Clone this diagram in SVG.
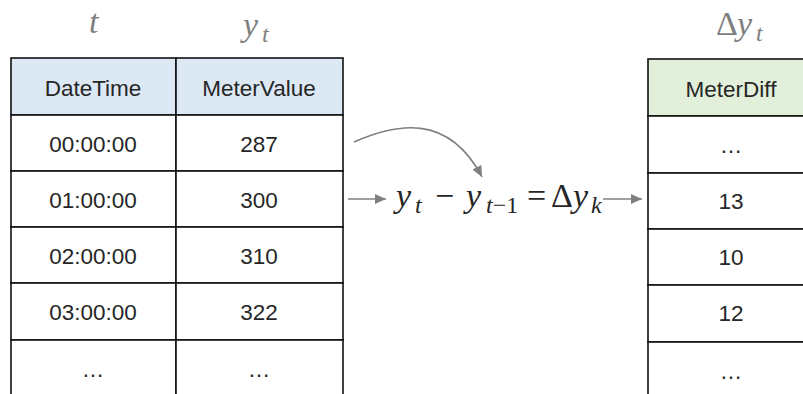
<svg xmlns="http://www.w3.org/2000/svg" width="803" height="394" viewBox="0 0 803 394">
<style>
.cell{fill:#ffffff;stroke:#111;stroke-width:1.6}
.hb{fill:#dde8f5;stroke:#111;stroke-width:1.6}
.hg{fill:#e2efda;stroke:#111;stroke-width:1.6}
.tx{font-family:"Liberation Sans",Arial,sans-serif;font-size:22.5px;fill:#262626;text-anchor:middle}
.m{font-family:"Liberation Serif","DejaVu Serif",serif;font-style:italic;font-size:34px;fill:#262626}
.mg{font-family:"Liberation Serif","DejaVu Serif",serif;font-style:italic;font-size:34px;fill:#7f7f7f}
.su{font-size:24px}
.up{font-style:normal}
.ar{fill:none;stroke:#808080;stroke-width:1.6}
</style>
<defs>
<marker id="ah" markerUnits="userSpaceOnUse" markerWidth="12" markerHeight="10" refX="11" refY="5" orient="auto">
<path d="M0,0 L11,5 L0,10 z" fill="#808080"/>
</marker>
</defs>
<g id="labels">
<text class="mg" x="89" y="33">t</text>
<text class="mg" x="243" y="36">y<tspan class="su" x="262" y="42">t</tspan></text>
<text class="mg" x="716" y="35"><tspan class="up">Δ</tspan><tspan x="737">y</tspan><tspan class="su" x="756" y="41">t</tspan></text>
</g>
<g id="left-table">
<rect class="hb" x="11" y="58" width="165" height="57"/>
<rect class="hb" x="176" y="58" width="167" height="57"/>
<rect class="cell" x="11" y="115" width="165" height="56"/>
<rect class="cell" x="176" y="115" width="167" height="56"/>
<rect class="cell" x="11" y="171" width="165" height="56"/>
<rect class="cell" x="176" y="171" width="167" height="56"/>
<rect class="cell" x="11" y="227" width="165" height="56"/>
<rect class="cell" x="176" y="227" width="167" height="56"/>
<rect class="cell" x="11" y="283" width="165" height="57"/>
<rect class="cell" x="176" y="283" width="167" height="57"/>
<rect class="cell" x="11" y="340" width="165" height="60"/>
<rect class="cell" x="176" y="340" width="167" height="60"/>
<text class="tx" x="93" y="96">DateTime</text>
<text class="tx" x="259" y="96">MeterValue</text>
<text class="tx" x="93" y="152">00:00:00</text>
<text class="tx" x="259" y="152">287</text>
<text class="tx" x="93" y="208">01:00:00</text>
<text class="tx" x="259" y="208">300</text>
<text class="tx" x="93" y="264">02:00:00</text>
<text class="tx" x="259" y="264">310</text>
<text class="tx" x="93" y="320">03:00:00</text>
<text class="tx" x="259" y="320">322</text>
<text class="tx" x="93" y="377">…</text>
<text class="tx" x="259" y="377">…</text>
</g>
<g id="formula">
<text class="m" x="396" y="207">y<tspan class="su" x="415" y="213">t</tspan><tspan class="up" x="435" y="207">−</tspan><tspan x="466">y</tspan><tspan class="su" x="486" y="213">t<tspan class="up">−1</tspan></tspan><tspan class="up" x="527" y="207">=</tspan><tspan class="up" x="551">Δ</tspan><tspan x="573">y</tspan><tspan class="su" x="591" y="213">k</tspan></text>
</g>
<g id="right-table">
<rect class="hg" x="648" y="59" width="166" height="57"/>
<rect class="cell" x="648" y="116" width="166" height="57"/>
<rect class="cell" x="648" y="173" width="166" height="56"/>
<rect class="cell" x="648" y="229" width="166" height="56"/>
<rect class="cell" x="648" y="285" width="166" height="57"/>
<rect class="cell" x="648" y="342" width="166" height="60"/>
<text class="tx" x="731" y="97">MeterDiff</text>
<text class="tx" x="731" y="153">…</text>
<text class="tx" x="731" y="209">13</text>
<text class="tx" x="731" y="265">10</text>
<text class="tx" x="731" y="321">12</text>
<text class="tx" x="731" y="379">…</text>
</g>
<g id="connectors">
<path class="ar" d="M348,199 L386,199" marker-end="url(#ah)"/>
<path class="ar" d="M603,199 L642,199" marker-end="url(#ah)"/>
<path class="ar" d="M354,142 C395,124 448,112 482,177" marker-end="url(#ah)"/>
</g>
</svg>
